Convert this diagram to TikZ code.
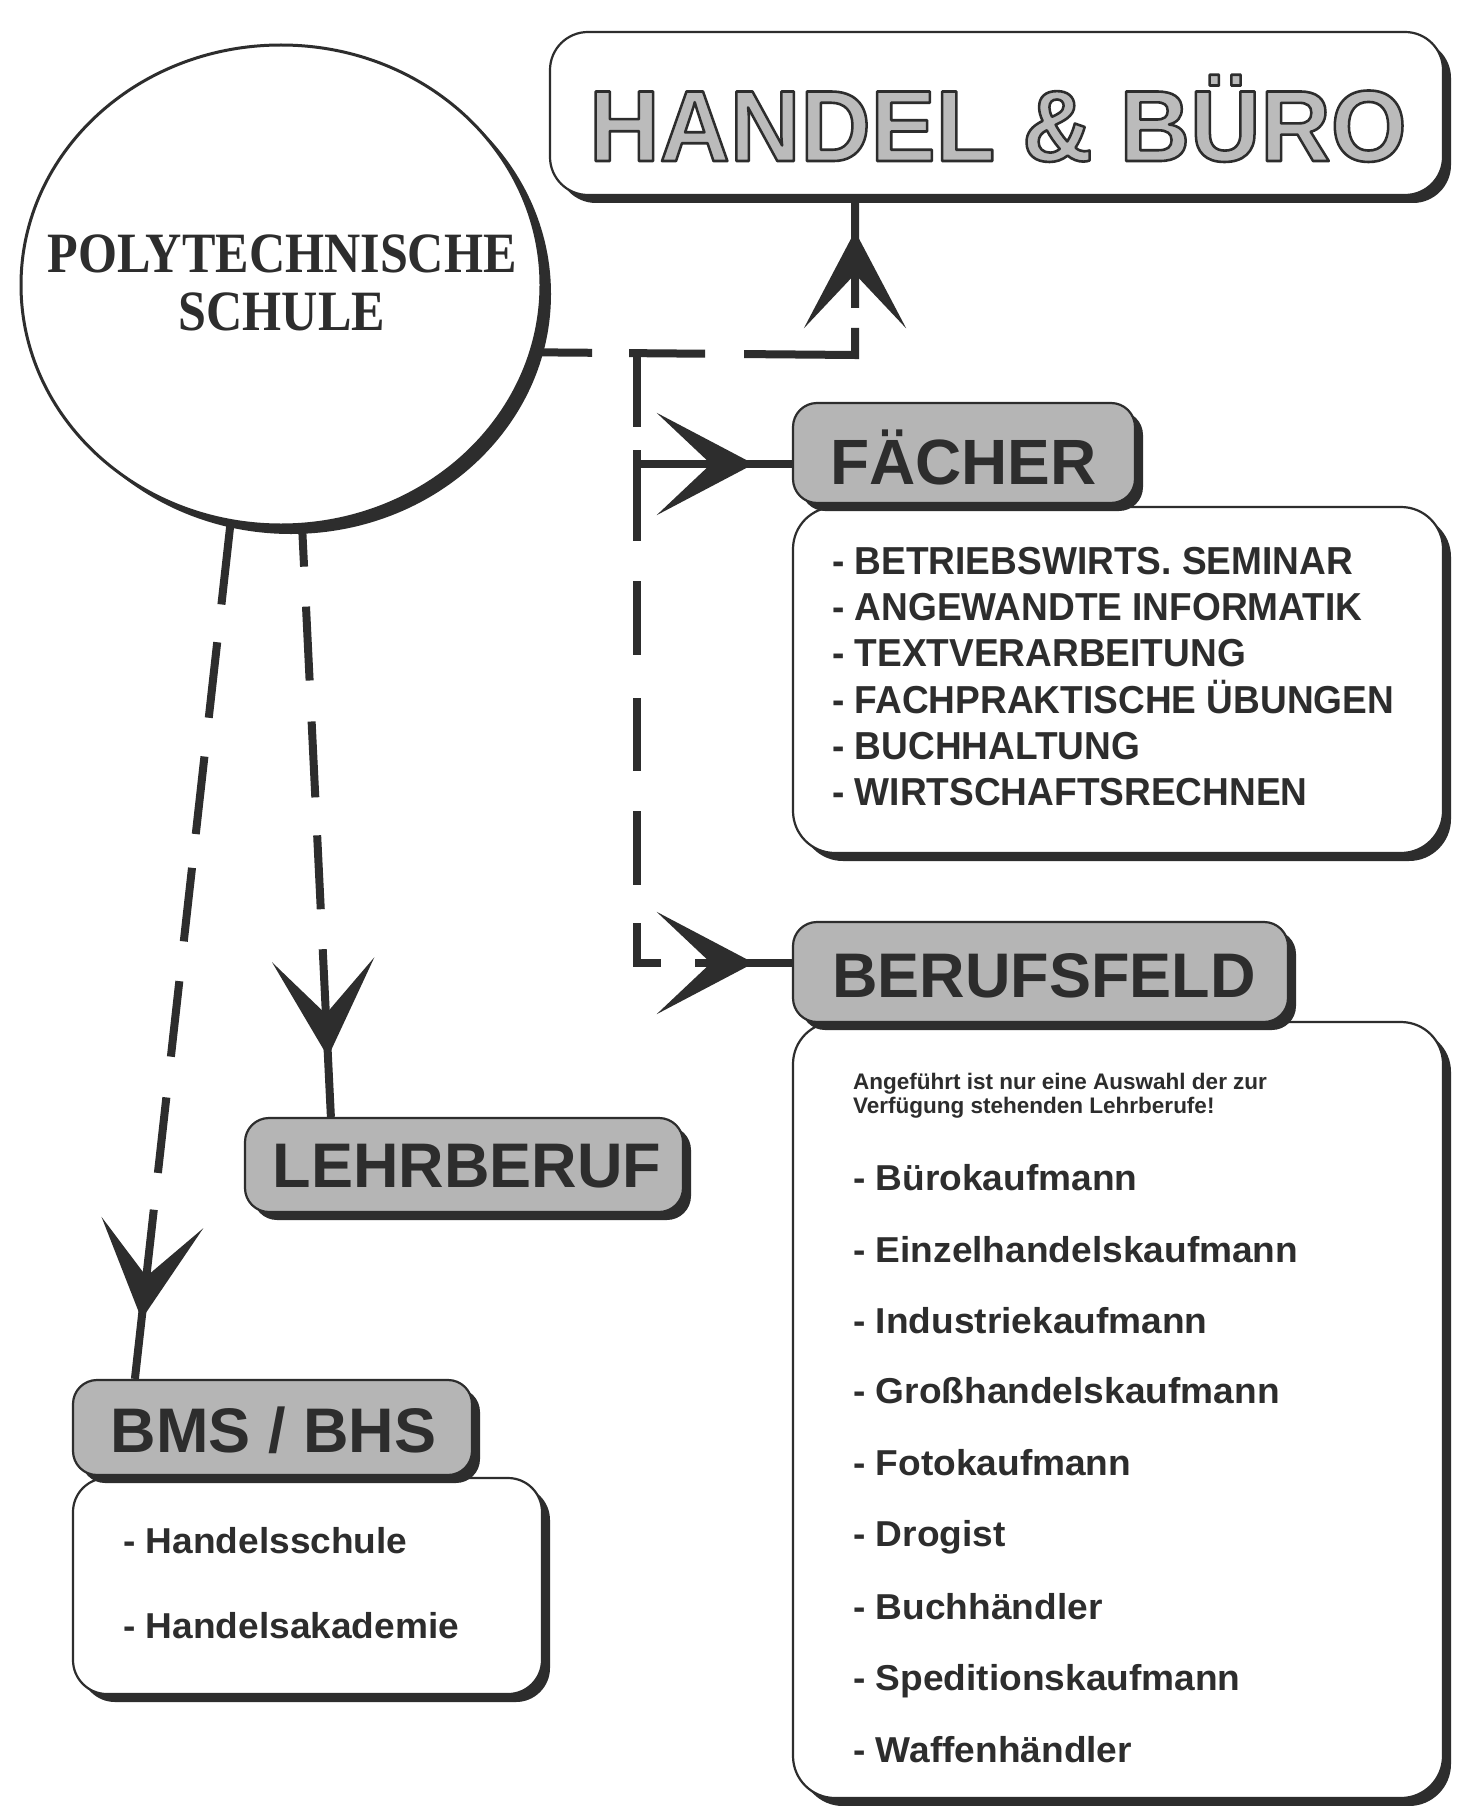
\documentclass[tikz,border=0pt]{standalone}
\usepackage{fontspec}
\usepackage{graphicx}
\usetikzlibrary{shapes.geometric,arrows.meta,decorations.markings,shadows,calc}
\newfontfamily\hv{Liberation Sans}
\newfontfamily\tm{Liberation Serif}
\definecolor{ink}{HTML}{2D2D2D}
\definecolor{panelgrey}{HTML}{B5B5B5}
\definecolor{lettergrey}{HTML}{BBBBBB}
% outlined lettering: fill with the current colour, stroke in ink
\newcommand\outlinedtext[1]{%
  \special{pdf:literal direct 0.176 0.176 0.176 RG 2.6 w 1 j 2 Tr}#1\special{pdf:literal direct 0 Tr}}
\tikzset{
  boxshadow/.style={drop shadow={shadow xshift=8pt, shadow yshift=-8pt, opacity=1, fill=ink}},
  listbox/.style={draw=ink, line width=2.2pt, fill=white, rounded corners=42pt, inner sep=0pt, boxshadow},
  headbox/.style={draw=ink, line width=2.2pt, fill=panelgrey, rounded corners=24pt, inner sep=0pt, boxshadow},
  headtext/.style={text=ink, inner sep=0pt, anchor=base, font=\hv\bfseries\fontsize{63}{63}\selectfont},
  handeltext/.style={inner sep=0pt, anchor=base, font=\hv\bfseries\fontsize{101}{101}\selectfont},
  schooltext/.style={text=ink, inner sep=0pt, anchor=base, font=\tm\bfseries\fontsize{57}{57}\selectfont},
  subjecttext/.style={text=ink, inner sep=0pt, anchor=base west, font=\hv\bfseries\fontsize{39}{39}\selectfont},
  jobtext/.style={text=ink, inner sep=0pt, anchor=base west, font=\hv\bfseries\fontsize{36}{36}\selectfont},
  notetext/.style={text=ink, inner sep=0pt, anchor=base west, font=\hv\bfseries\fontsize{22.5}{22.5}\selectfont},
  link/.style={draw=ink, line width=8pt},
  arrowat/.style={postaction={decorate}, decoration={markings,
      mark=at position #1 with {\pgfsetdash{}{0pt}\arrow[ink]{Stealth[length=97pt,width=102pt,inset=54pt]}}}}
}
\begin{document}
\begin{tikzpicture}[x=1pt, y=-1pt]
\fill[white] (0,0) rectangle (1461,1806);
\useasboundingbox (0,0) rectangle (1461,1806);

% school circle
\node[ellipse, minimum width=520pt, minimum height=480pt, inner sep=0pt, draw=ink, line width=3pt, fill=white,
      drop shadow={shadow xshift=10pt, shadow yshift=-9pt, opacity=1, fill=ink}] (circ) at (281,285) {};
\node[schooltext] (pt1) at (282,272) {\scalebox{0.88}[1]{POLYTECHNISCHE}};
\node[schooltext] (pt2) at (282,330) {\scalebox{0.88}[1]{SCHULE}};

% title box
\node[listbox, rounded corners=38pt, minimum width=893pt, minimum height=163pt] (handel) at (996.5,113.5) {};
\node[handeltext, text=lettergrey] (ht) at (998,161) {\outlinedtext{\scalebox{0.965}[1]{HANDEL \& BÜRO}}};

% list boxes (drawn before their headers)
\node[listbox, minimum width=650pt, minimum height=346pt] (flist) at (1118,680) {};
\node[listbox, minimum width=650pt, minimum height=776pt] (blist) at (1118,1410) {};
\node[listbox, rounded corners=34pt, minimum width=469pt, minimum height=216pt] (slist) at (307.5,1586) {};

% headers
\node[headbox, minimum width=342pt, minimum height=100pt] (faecher) at (964,453) {};
\node[headtext] (faechert) at (963.5,484) {\fontsize{64}{64}\selectfont FÄCHER};
\node[headbox, minimum width=495pt, minimum height=100pt] (beruf) at (1040.5,972) {};
\node[headtext] (beruft) at (1044,997) {BERUFSFELD};
\node[headbox, minimum width=438pt, minimum height=94pt] (lehr) at (464,1165) {};
\node[headtext] (lehrt) at (467,1187) {LEHRBERUF};
\node[headbox, minimum width=399pt, minimum height=95pt] (bms) at (272.5,1427.5) {};
\node[headtext] (bmst) at (273.5,1452) {BMS / BHS};

% subjects
\node[subjecttext] (f1) at (832,574) {\scalebox{0.95}[1]{- BETRIEBSWIRTS. SEMINAR}};
\node[subjecttext] (f2) at (832,620) {\scalebox{0.95}[1]{- ANGEWANDTE INFORMATIK}};
\node[subjecttext] (f3) at (832,666) {\scalebox{0.95}[1]{- TEXTVERARBEITUNG}};
\node[subjecttext] (f4) at (832,713) {\scalebox{0.95}[1]{- FACHPRAKTISCHE ÜBUNGEN}};
\node[subjecttext] (f5) at (832,759) {\scalebox{0.95}[1]{- BUCHHALTUNG}};
\node[subjecttext] (f6) at (832,805) {\scalebox{0.95}[1]{- WIRTSCHAFTSRECHNEN}};

% apprenticeships
\node[notetext] (n1) at (853,1089) {Angeführt ist nur eine Auswahl der zur};
\node[notetext] (n2) at (853,1113) {Verfügung stehenden Lehrberufe!};
\node[jobtext] (b1) at (853,1190) {\scalebox{1.03}[1]{- Bürokaufmann}};
\node[jobtext] (b2) at (853,1262) {\scalebox{1.03}[1]{- Einzelhandelskaufmann}};
\node[jobtext] (b3) at (853,1333) {\scalebox{1.03}[1]{- Industriekaufmann}};
\node[jobtext] (b4) at (853,1403) {\scalebox{1.03}[1]{- Großhandelskaufmann}};
\node[jobtext] (b5) at (853,1475) {\scalebox{1.03}[1]{- Fotokaufmann}};
\node[jobtext] (b6) at (853,1546) {\scalebox{1.03}[1]{- Drogist}};
\node[jobtext] (b7) at (853,1619) {\scalebox{1.03}[1]{- Buchhändler}};
\node[jobtext] (b8) at (853,1690) {\scalebox{1.03}[1]{- Speditionskaufmann}};
\node[jobtext] (b9) at (853,1762) {\scalebox{1.03}[1]{- Waffenhändler}};

% schools
\node[jobtext] (s1) at (123,1553) {\scalebox{1.03}[1]{- Handelsschule}};
\node[jobtext] (s2) at (123,1638) {\scalebox{1.03}[1]{- Handelsakademie}};

% junction points of the connectors
\coordinate (j1) at (637,355);
\coordinate (c1) at (855,355);
\coordinate (j2) at (637,464);
\coordinate (c2) at (637,963);

% connectors
\draw[link, dash pattern=on 60pt off 37pt on 76pt off 39pt on 138pt off 20pt on 400pt, arrowat=-35pt]
  (circ.-15.7) -- (c1) -- (c1 |- handel.south);
\draw[link, dash pattern=on 72pt off 23pt on 91pt off 40pt on 74pt off 43pt on 73pt off 40pt on 74pt off 38pt on 64pt off 34pt on 300pt, arrowat=-38pt]
  (j1) -- (c2) -- (c2 -| beruf.west);
\draw[link, arrowat=-38pt] (j2) -- (j2 -| faecher.west);
\draw[link, dash pattern=on 41pt off 40pt on 74pt off 41pt on 76pt off 38pt on 74pt off 40pt on 300pt, arrowat=-60pt]
  (circ.-85.1) -- ($(lehr.north west)+(87,0)$);
\draw[link, dash pattern=on 83pt off 38pt on 76pt off 39pt on 78pt off 34pt on 74pt off 40pt on 76pt off 41pt on 76pt off 37pt on 300pt, arrowat=-60pt]
  (circ.-102.8) -- ($(bms.north west)+(63,0)$);
\end{tikzpicture}
\end{document}
